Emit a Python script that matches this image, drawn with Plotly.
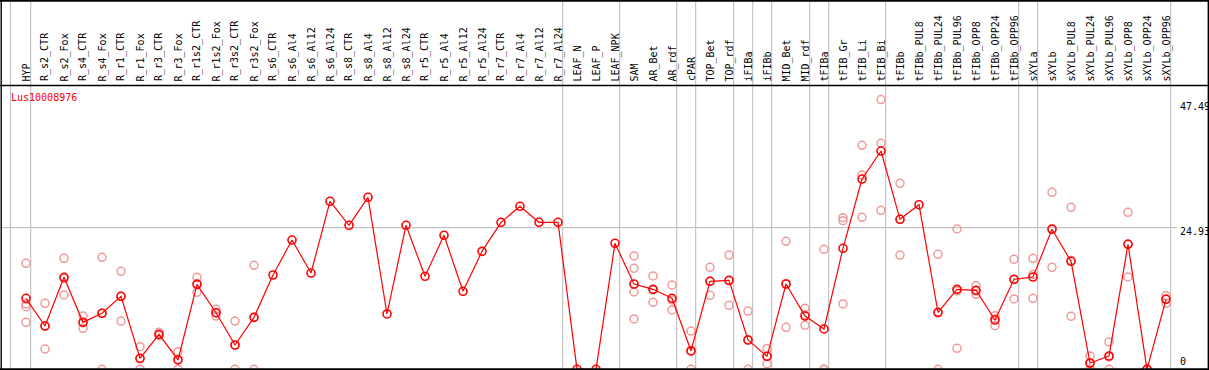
import plotly.graph_objects as go

# ---------------- data ----------------
categories = [
    "HYP",
    "R_s2_CTR", "R_s2_Fox", "R_s4_CTR", "R_s4_Fox", "R_r1_CTR", "R_r1_Fox",
    "R_r3_CTR", "R_r3_Fox", "R_r1s2_CTR", "R_r1s2_Fox", "R_r3s2_CTR", "R_r3s2_Fox",
    "R_s6_CTR", "R_s6_Al4", "R_s6_Al12", "R_s6_Al24",
    "R_s8_CTR", "R_s8_Al4", "R_s8_Al12", "R_s8_Al24",
    "R_r5_CTR", "R_r5_Al4", "R_r5_Al12", "R_r5_Al24",
    "R_r7_CTR", "R_r7_Al4", "R_r7_Al12", "R_r7_Al24",
    "LEAF_N", "LEAF_P", "LEAF_NPK",
    "SAM", "AR_Bet", "AR_rdf", "cPAR", "TOP_Bet", "TOP_rdf", "iFIBa", "iFIBb",
    "MID_Bet", "MID_rdf", "tFIBa", "tFIB_Gr", "tFIB_Li", "tFIB_Bi",
    "tFIBb", "tFIBb_PUL8", "tFIBb_PUL24", "tFIBb_PUL96", "tFIBb_OPP8", "tFIBb_OPP24", "tFIBb_OPP96",
    "sXYLa", "sXYLb", "sXYLb_PUL8", "sXYLb_PUL24", "sXYLb_PUL96", "sXYLb_OPP8", "sXYLb_OPP24", "sXYLb_OPP96",
]

means = [
    12.50,
    7.62, 16.20, 8.27, 9.86, 12.85, 1.94,
    6.16, 1.64, 14.96, 9.96, 4.28, 9.15,
    16.60, 22.76, 16.95, 29.58,
    25.35, 30.28, 9.74, 25.35,
    16.37, 23.59, 13.73, 20.77,
    25.88, 28.70, 25.88, 25.88,
    0.0, 0.0, 22.18,
    15.02, 14.08, 12.50, 3.27, 15.49, 15.67, 5.16, 2.29,
    15.02, 9.38, 7.10, 21.30, 33.50, 38.43,
    26.41, 28.98, 10.04, 14.08, 13.91, 8.68, 15.85,
    16.25, 24.65, 19.01, 1.11, 2.34, 22.01, 0.0, 12.32,
]

replicates = [
    [18.66, 11.50, 11.02, 8.27],
    [11.62, 3.57, 7.65], [19.54, 13.08, 16.0], [9.38, 7.22, 8.2], [19.72, 0.0, 9.86],
    [17.25, 8.50, 12.8], [3.98, 0.0, 1.85],
    [6.51, 6.0, 5.96], [3.10, 0.0, 1.8], [16.20, 13.56, 15.1], [10.56, 9.38, 9.95],
    [8.50, 0.0, 4.3], [18.31, 0.0, 9.15],
    [], [], [], [],
    [], [], [], [],
    [], [], [], [],
    [], [], [], [],
    [], [], [],
    [19.95, 17.78, 13.61, 8.86], [16.43, 11.80, 14.0], [14.84, 10.44, 12.2], [6.74, 0.0, 3.1],
    [17.96, 13.03, 15.5], [20.12, 11.27, 15.6], [10.26, 0.0, 5.2], [3.63, 0.99, 2.25],
    [22.54, 7.39, 15.1], [10.74, 7.75, 9.6], [21.13, 0.0, 0.0],
    [26.69, 26.16, 11.50], [39.44, 34.21, 26.76], [47.49, 39.79, 27.99],
    [32.75, 20.12, 26.4], [], [20.25, 0.0, 9.9], [24.70, 3.70, 13.8],
    [14.72, 13.20, 13.8], [9.44, 7.68, 8.9], [19.37, 12.38, 15.8],
    [19.54, 12.50, 16.7], [31.16, 17.96, 24.8], [28.52, 9.33, 19.2], [2.34, 0.0, 1.0],
    [4.81, 0.0, 2.2], [27.64, 16.25, 22.1], [0.0, 0.0, 0.0], [12.96, 11.62, 12.4],
]

group_ends = ["HYP", "R_r7_Al24", "LEAF_NPK", "AR_rdf", "cPAR", "TOP_rdf", "iFIBa",
              "iFIBb", "MID_rdf", "tFIBa", "tFIB_Bi", "tFIBb_OPP96", "sXYLa", "sXYLb_OPP96"]

value_labels = ["47.49", "24.93", "0"]
grid_value = 24.93
gene_id = "Lus10008976"

# ---------------- layout geometry ----------------
W, H = 1209, 370
X0_PX, STEP_PX = 26.0, 19.0      # pixel x of first category, spacing
Y0_PX, K = 369.3, 5.68           # pixel y of value 0, pixels per unit
HEADER_PX = 85.5                 # header separator line (from top)

x_range = [-X0_PX / STEP_PX, (W - X0_PX) / STEP_PX]
y_range = [-(H - Y0_PX) / K, Y0_PX / K]

def py(p):  # pixel-from-top -> paper y
    return 1 - p / H

def px(p):
    return p / W

idx = list(range(len(categories)))

rx, ry = [], []
for i, reps in enumerate(replicates):
    for v in reps:
        rx.append(i)
        ry.append(v)

MONO = "DejaVu Sans Mono"
fig = go.Figure()

fig.add_trace(go.Scatter(
    x=rx, y=ry, mode="markers",
    marker=dict(symbol="circle-open", size=8, color="#EF9A9A", line=dict(width=1.5, color="#EF9A9A")),
    hoverinfo="skip", showlegend=False, cliponaxis=False,
))
fig.add_trace(go.Scatter(
    x=idx, y=means, mode="lines+markers",
    line=dict(color="#FF0000", width=1.2),
    marker=dict(symbol="circle-open", size=8, color="#FF0000", line=dict(width=1.6, color="#FF0000")),
    showlegend=False, cliponaxis=False,
))

shapes = []
grey = "#C4C4C4"
# left extra separator
shapes.append(dict(type="line", xref="paper", yref="paper", x0=px(10.5), x1=px(10.5),
                   y0=py(0), y1=py(369), line=dict(color=grey, width=1.2), layer="below"))
for name in group_ends:
    xv = categories.index(name) + 0.245
    shapes.append(dict(type="line", xref="x", yref="paper", x0=xv, x1=xv,
                       y0=py(0), y1=py(369), line=dict(color=grey, width=1.2), layer="below"))
# horizontal grid at the mid value
shapes.append(dict(type="line", xref="paper", yref="y", x0=px(1), x1=px(1177),
                   y0=grid_value, y1=grid_value, line=dict(color=grey, width=1.2), layer="below"))
# header separator
shapes.append(dict(type="line", xref="paper", yref="paper", x0=0, x1=px(1208.5),
                   y0=py(HEADER_PX), y1=py(HEADER_PX), line=dict(color="black", width=1.4)))
# border
shapes.append(dict(type="line", xref="paper", yref="paper", x0=0, x1=px(1209),
                   y0=py(0.8), y1=py(0.8), line=dict(color="black", width=2)))
shapes.append(dict(type="line", xref="paper", yref="paper", x0=0, x1=px(1209),
                   y0=py(369.2), y1=py(369.2), line=dict(color="black", width=1.8)))
shapes.append(dict(type="line", xref="paper", yref="paper", x0=px(1.2), x1=px(1.2),
                   y0=0, y1=1, line=dict(color="black", width=1.4)))
shapes.append(dict(type="line", xref="paper", yref="paper", x0=px(1208.3), x1=px(1208.3),
                   y0=0, y1=1, line=dict(color="black", width=1.4)))

annotations = []
for i, name in enumerate(categories):
    annotations.append(dict(x=i, y=py(83.5), xref="x", yref="paper", text=name,
                            textangle=-90, xanchor="center", yanchor="bottom", showarrow=False,
                            font=dict(family=MONO, size=10, color="black")))
annotations.append(dict(x=px(9), y=py(97.5), xref="paper", yref="paper", text=gene_id,
                        xanchor="left", yanchor="middle", showarrow=False,
                        font=dict(family=MONO, size=10, color="#FF0000")))
for lab, ypx in zip(value_labels, [106.7, 231.7, 361.7]):
    annotations.append(dict(x=px(1177.5), y=py(ypx), xref="paper", yref="paper", text=lab,
                            xanchor="left", yanchor="middle", showarrow=False,
                            font=dict(family=MONO, size=10, color="black")))

fig.update_layout(
    width=W, height=H, margin=dict(l=0, r=0, t=0, b=0, pad=0),
    paper_bgcolor="white", plot_bgcolor="white",
    xaxis=dict(range=x_range, visible=False, fixedrange=True),
    yaxis=dict(range=y_range, visible=False, fixedrange=True),
    shapes=shapes, annotations=annotations, showlegend=False,
)

fig.write_html(
    "out.html",
    config={"displayModeBar": False},
    post_script="document.body.style.margin='0';document.body.style.padding='0';"
                "document.body.style.overflow='hidden';",
)
